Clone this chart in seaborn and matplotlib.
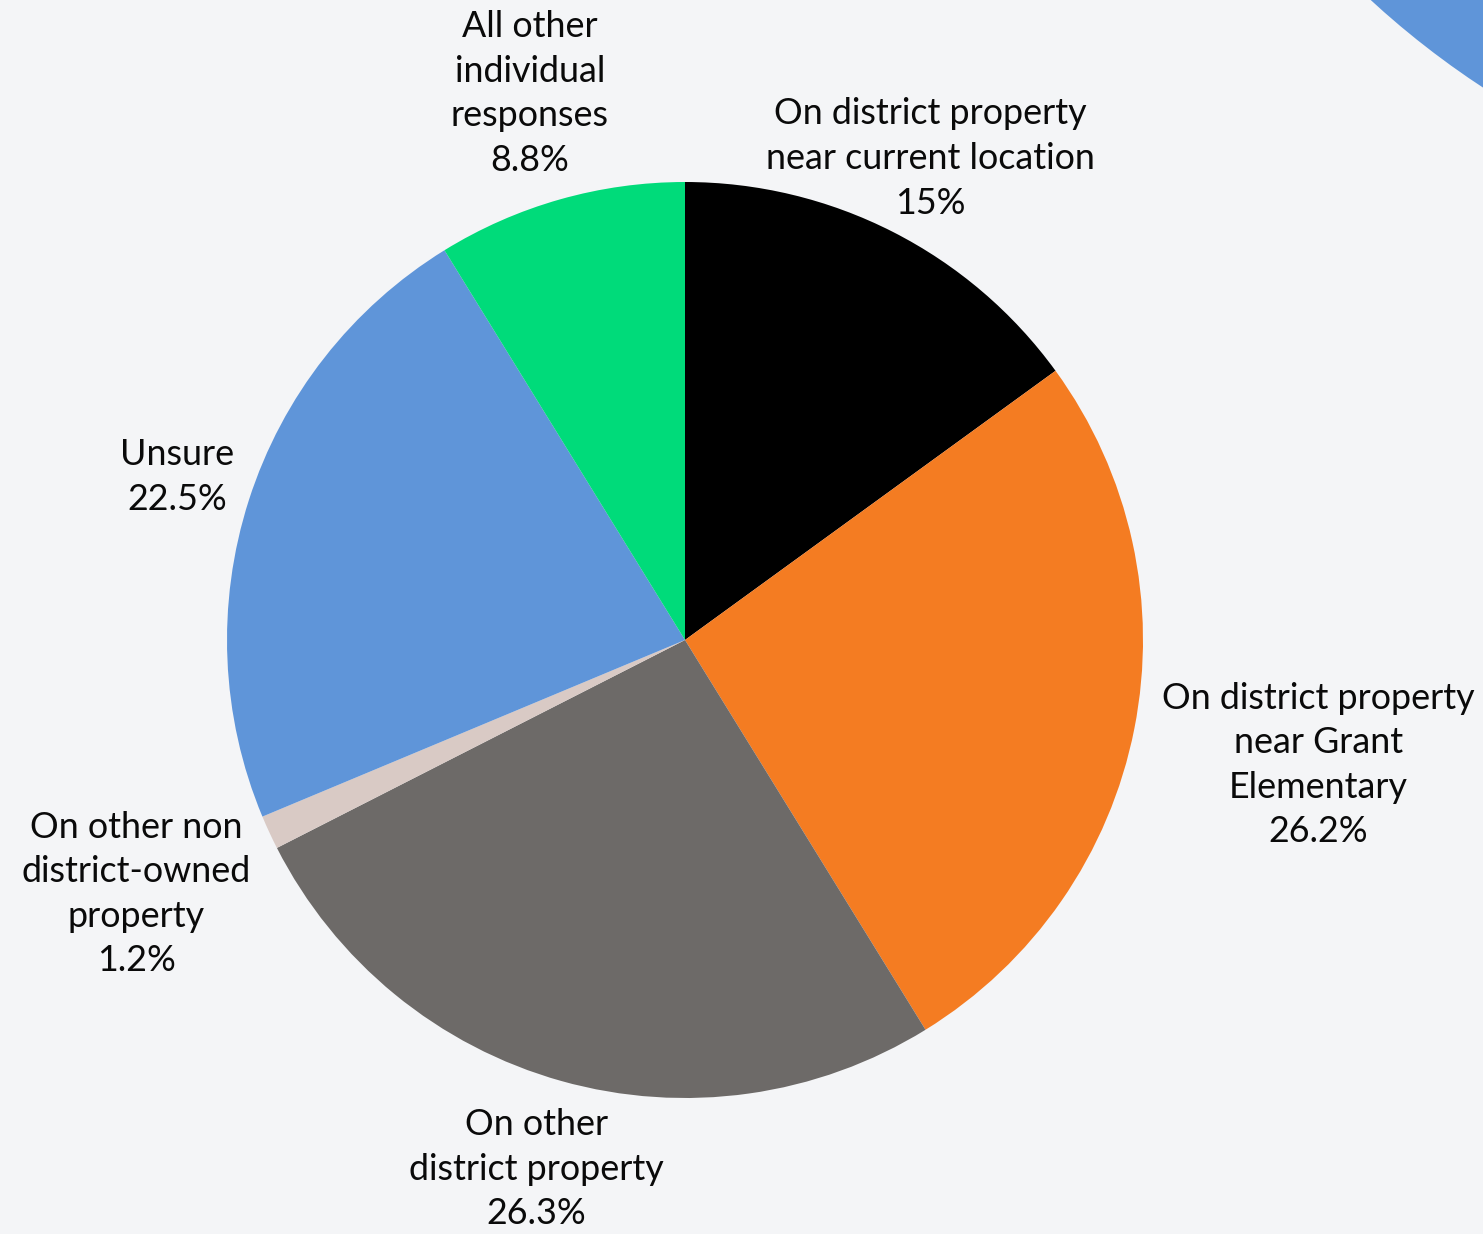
import numpy as np
import matplotlib
matplotlib.use("Agg")
import matplotlib.pyplot as plt
import seaborn as sns
from matplotlib.patches import Circle

categories = [
    "On district property\nnear current location",
    "On district property\nnear Grant\nElementary",
    "On other\ndistrict property",
    "On other non\ndistrict-owned\nproperty",
    "Unsure",
    "All other\nindividual\nresponses",
]
values = [15.0, 26.2, 26.3, 1.2, 22.5, 8.8]
value_labels = ["15%", "26.2%", "26.3%", "1.2%", "22.5%", "8.8%"]

colors = ["#000000", "#f47c22", "#6d6a68", "#d9cac5", "#5f95d9", "#00db7a"]
label_dist = [1.18, 1.41, 1.20, 1.32, 1.165, 1.24]

sns.set_theme(style="white")
plt.rcParams["font.family"] = ["Lato", "DejaVu Sans"]

BG = "#f4f5f7"
W, H = 1483, 1234
fig = plt.figure(figsize=(W / 100, H / 100), dpi=100, facecolor=BG)
ax = fig.add_axes([0, 0, 1, 1])
ax.set_facecolor(BG)

cx, cy, R = 685, H - 640, 458

# decorative circle at top-right
ax.add_patch(Circle((1960, H + 640), 870, color="#5f95d9", lw=0, zorder=0))

labels = [f"{c}\n{v}" for c, v in zip(categories, value_labels)]
wedges, texts = ax.pie(values, colors=colors, startangle=90, counterclock=False,
                       center=(cx, cy), radius=R, labels=labels,
                       wedgeprops=dict(linewidth=0),
                       textprops=dict(fontsize=25.8, color="#0a0a0a",
                                      ha="center", va="center"),
                       frame=True)
for w, t, d in zip(wedges, texts, label_dist):
    ang = np.deg2rad((w.theta1 + w.theta2) / 2)
    t.set_position((cx + d * R * np.cos(ang), cy + d * R * np.sin(ang)))
    t.set_ha("center")
    t.set_va("center")
    t.set_multialignment("center")
    t.set_linespacing(1.43)

ax.set_xlim(0, W)
ax.set_ylim(0, H)
ax.set_aspect("equal")
ax.axis("off")
fig.savefig("out.png", dpi=100, facecolor=BG)
